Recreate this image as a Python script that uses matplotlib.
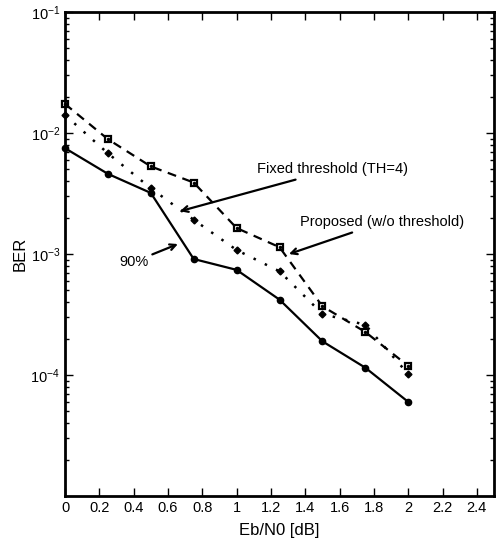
import math
import matplotlib
matplotlib.use("Agg")
import matplotlib.pyplot as plt
from matplotlib.ticker import LogLocator, FixedLocator, FuncFormatter, NullFormatter

plt.rcParams['font.family'] = ['Liberation Sans', 'DejaVu Sans']
plt.rcParams['mathtext.fontset'] = 'custom'
plt.rcParams['mathtext.rm'] = 'Liberation Sans'
plt.rcParams['mathtext.it'] = 'Liberation Sans'

# Eb/N0 values [dB]
ebn0 = [0, 0.25, 0.5, 0.75, 1.0, 1.25, 1.5, 1.75, 2.0]

# BER curves
ber_90 = [7.5e-3, 4.6e-3, 3.2e-3, 9.1e-4, 7.4e-4, 4.2e-4, 1.9e-4, 1.15e-4, 6.0e-5]
ber_proposed = [1.74e-2, 8.9e-3, 5.3e-3, 3.9e-3, 1.64e-3, 1.14e-3, 3.7e-4, 2.27e-4, 1.19e-4]
ber_fixed = [1.41e-2, 6.8e-3, 3.5e-3, 1.92e-3, 1.08e-3, 7.2e-4, 3.2e-4, 2.6e-4, 1.02e-4]

xticks = [0, 0.2, 0.4, 0.6, 0.8, 1, 1.2, 1.4, 1.6, 1.8, 2, 2.2, 2.4]
xticklabels = ['0', '0.2', '0.4', '0.6', '0.8', '1', '1.2', '1.4', '1.6', '1.8', '2', '2.2', '2.4']

fig = plt.figure(figsize=(5.0, 5.49), dpi=100)
ax = fig.add_axes([0.13, 0.0965, 0.858, 0.8815])

ax.semilogy(ebn0, ber_90, color='black', lw=1.6, marker='o', ms=4.5, clip_on=False)
ax.semilogy(ebn0, ber_proposed, color='black', lw=1.6, ls=(0, (4, 3)),
            marker='s', ms=5, mfc='white', mec='black', mew=1.6, clip_on=False)
ax.semilogy(ebn0, ber_proposed, ls='none', marker='o', ms=1.5, color='black', clip_on=False)
ax.semilogy(ebn0, ber_fixed, color='black', lw=1.8, ls=(0, (1, 4)),
            marker='D', ms=3.5, clip_on=False)

ax.set_xlim(0, 2.5)
ax.set_ylim(1e-5, 1e-1)

ax.xaxis.set_major_locator(FixedLocator(xticks))
ax.set_xticklabels(xticklabels)
ax.yaxis.set_major_locator(FixedLocator([1e-4, 1e-3, 1e-2, 1e-1]))
ax.yaxis.set_major_formatter(FuncFormatter(lambda v, p: r'$10^{%d}$' % round(math.log10(v))))
ax.yaxis.set_minor_locator(LogLocator(base=10, subs=range(2, 10)))
ax.yaxis.set_minor_formatter(NullFormatter())

ax.tick_params(which='both', direction='in', top=True, right=True, labelsize=10.5)
ax.tick_params(which='major', length=6, width=1)
ax.tick_params(which='minor', length=3, width=1)
for s in ax.spines.values():
    s.set_linewidth(2)

ax.set_xlabel('Eb/N0 [dB]', fontsize=12, labelpad=6)
ax.set_ylabel('BER', fontsize=12, labelpad=2)

arrow = dict(arrowstyle='->', color='black', lw=1.6, shrinkA=1, shrinkB=0)
ax.annotate('Fixed threshold (TH=4)', xy=(0.67, 2.26e-3), xytext=(1.12, 5.0e-3),
            fontsize=10.5, va='center', ha='left', arrowprops=arrow)
ax.annotate('Proposed (w/o threshold)', xy=(1.305, 1.0e-3), xytext=(1.37, 1.83e-3),
            fontsize=10.5, va='center', ha='left', arrowprops=arrow)
ax.annotate('90%', xy=(0.658, 1.21e-3), xytext=(0.40, 8.6e-4),
            fontsize=10.5, va='center', ha='center', arrowprops=arrow)

fig.savefig('out.png', dpi=100)
